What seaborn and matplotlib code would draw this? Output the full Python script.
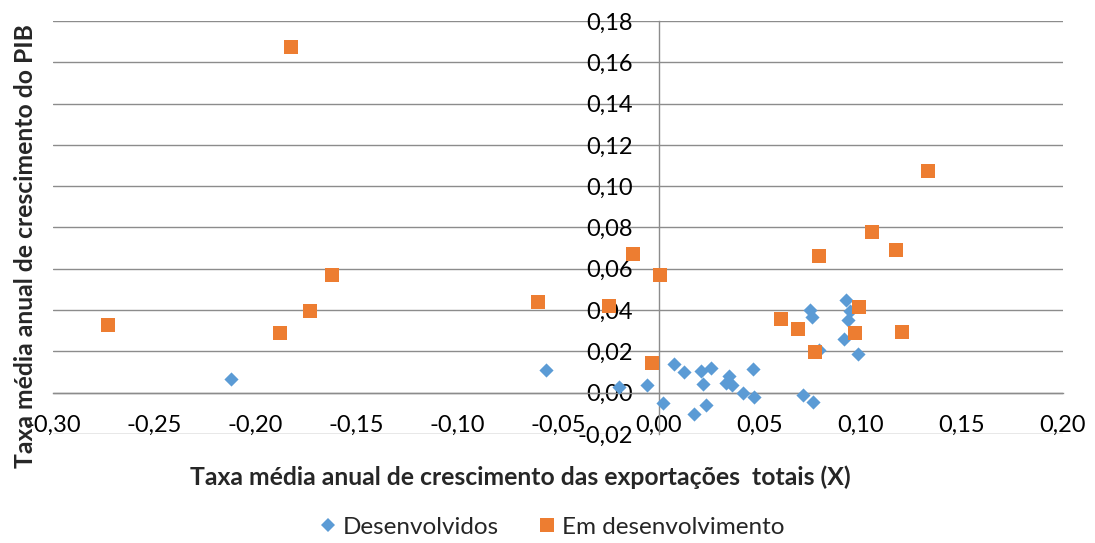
import matplotlib
matplotlib.use("Agg")
import matplotlib.pyplot as plt
from matplotlib.lines import Line2D
from matplotlib.ticker import FuncFormatter, MultipleLocator
import numpy as np
import pandas as pd
import seaborn as sns

# Series: average annual growth of total exports (x) vs GDP growth (y)
desenv_x = [-0.212, -0.0557, -0.0200, -0.0060, 0.0020, 0.0072, 0.0126, 0.0171,
            0.0210, 0.0218, 0.0233, 0.0258, 0.0330, 0.0346, 0.0362, 0.0416,
            0.0465, 0.0472, 0.0715, 0.0763, 0.0747, 0.0757, 0.0792, 0.0926,
            0.0944, 0.0937, 0.0914, 0.0983]
desenv_y = [0.0064, 0.0108, 0.0028, 0.0039, -0.0050, 0.0137, 0.0102, -0.0105,
            0.0106, 0.0043, -0.0058, 0.0119, 0.0047, 0.0080, 0.0036, 0.0000,
            0.0114, -0.0020, -0.0012, -0.0046, 0.0399, 0.0369, 0.0205, 0.0447,
            0.0395, 0.0352, 0.0259, 0.0187]

emdes_x = [-0.273, -0.182, -0.1876, -0.173, -0.162, -0.060, -0.0247, -0.0129,
           0.0007, -0.0036, 0.0605, 0.0690, 0.0790, 0.0770, 0.0988, 0.0972,
           0.1203, 0.1173, 0.1055, 0.1330]
emdes_y = [0.0328, 0.1672, 0.0290, 0.0395, 0.0570, 0.0440, 0.0418, 0.0673,
           0.0568, 0.0142, 0.0355, 0.0310, 0.0662, 0.0196, 0.0415, 0.0287,
           0.0292, 0.0692, 0.0776, 0.1073]

series_names = ["Desenvolvidos", "Em desenvolvimento"]
x_title = "Taxa média anual de crescimento das exportações  totais (X)"
y_title = "Taxa média anual de crescimento do PIB"

df = pd.DataFrame({
    "x": desenv_x + emdes_x,
    "y": desenv_y + emdes_y,
    "grupo": [series_names[0]] * len(desenv_x) + [series_names[1]] * len(emdes_x),
})

sns.set_style("white")
plt.rcParams["font.family"] = ["Lato", "DejaVu Sans"]

BLUE = "#5B9BD5"
ORANGE = "#ED7D31"
GRID = "#8C8C8C"

W, H = 1095, 543
fig = plt.figure(figsize=(W / 100, H / 100), dpi=100)
ax = fig.add_axes([53 / W, 1 - 434 / H, (1063 - 53) / W, (434 - 21) / H])

sns.scatterplot(data=df[df.grupo == series_names[0]], x="x", y="y",
                marker="D", color=BLUE, s=52, linewidth=0, ax=ax, zorder=3)
sns.scatterplot(data=df[df.grupo == series_names[1]], x="x", y="y",
                marker="s", color=ORANGE, s=112, linewidth=0, ax=ax, zorder=4)

ax.set_xlim(-0.30, 0.20)
ax.set_ylim(-0.02, 0.18)
ax.xaxis.set_major_locator(MultipleLocator(0.05))
ax.yaxis.set_major_locator(MultipleLocator(0.02))

fmt = FuncFormatter(lambda v, p: f"{v:.2f}".replace(".", ",").replace("-0,00", "0,00"))
ax.xaxis.set_major_formatter(fmt)
ax.yaxis.set_major_formatter(fmt)

# Axes crossing at the origin
for side in ("top", "right"):
    ax.spines[side].set_visible(False)
ax.spines["left"].set_position(("data", 0))
ax.spines["bottom"].set_position(("data", 0))
for side in ("left", "bottom"):
    ax.spines[side].set_color(GRID)
    ax.spines[side].set_linewidth(1.0)
    ax.spines[side].set_zorder(1)

ax.grid(axis="y", color=GRID, linewidth=1.0, zorder=0)
ax.grid(axis="x", visible=False)
ax.set_axisbelow(True)

ax.tick_params(axis="x", direction="out", length=5, width=1.0, color=GRID,
               pad=11, labelsize=17, labelcolor="black")
ax.tick_params(axis="y", length=0, pad=19, labelsize=17, labelcolor="black")
ax.set_xlabel("")
ax.set_ylabel("")
if ax.get_legend() is not None:
    ax.get_legend().remove()

fig.text(520 / W, 1 - 477 / H, x_title, ha="center", va="center",
         fontsize=17.8, fontweight="bold")
fig.text(26 / W, 1 - 246 / H, y_title, ha="center", va="center",
         rotation=90, fontsize=17.8, fontweight="bold")

handles = [
    Line2D([], [], marker="D", linestyle="none", color=BLUE, markersize=7.5,
           markeredgewidth=0),
    Line2D([], [], marker="s", linestyle="none", color=ORANGE, markersize=10,
           markeredgewidth=0),
]
fig.legend(handles, series_names, loc="center", bbox_to_anchor=(550 / W, 1 - 527 / H),
           ncol=2, frameon=False, fontsize=17.5, handletextpad=0.1,
           columnspacing=1.5, handlelength=1.0)

fig.savefig("out.png", dpi=100)
